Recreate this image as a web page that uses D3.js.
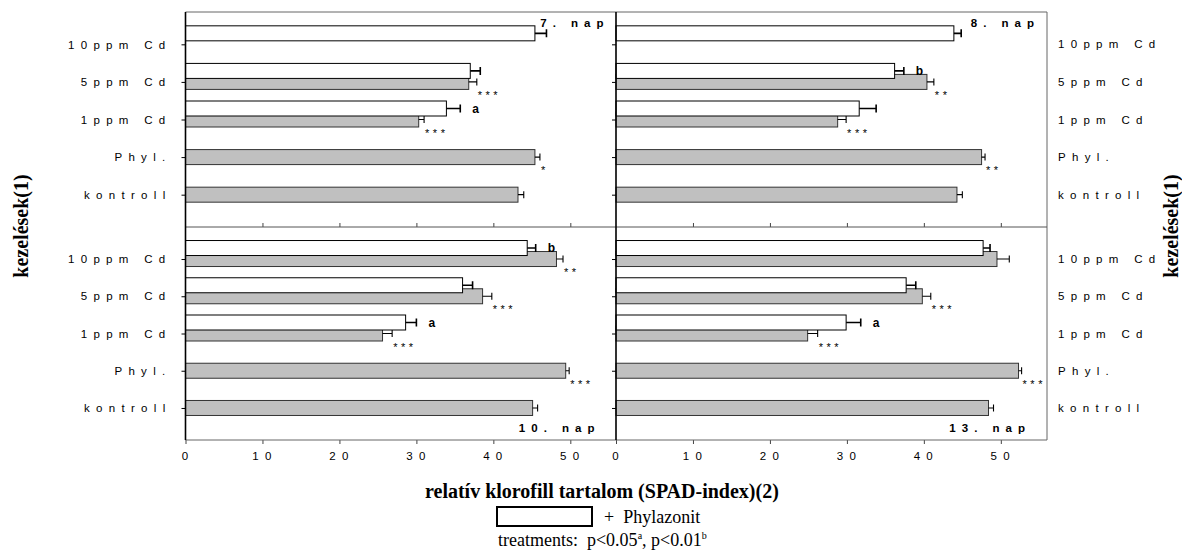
<!DOCTYPE html>
<html>
<head>
<meta charset="utf-8">
<script src="https://cdn.jsdelivr.net/npm/d3@7"></script>
<style>
  body { margin: 0; background: #fff; }
  .cat text, .xax text { font-family: "Liberation Sans", Arial, sans-serif; font-size: 11.5px; letter-spacing: 6.3px; fill: #000; }
  .serif { font-family: "Liberation Serif", "Times New Roman", serif; }
</style>
</head>
<body>
<div id="chart"></div>
<script>
// treatments (top to bottom on each panel)
const categories = ["10ppm Cd", "5ppm Cd", "1ppm Cd", "Phyl.", "kontroll"];
const days = ["7. nap", "8. nap", "10. nap", "13. nap"];
const xTicks = [0, 10, 20, 30, 40, 50];

// white bars = + Phylazonit, gray bars = without
const whiteValues = [
  [45.4, 37.0, 33.9, null, null],
  [43.9, 36.2, 31.6, null, null],
  [44.4, 36.0, 28.6, null, null],
  [47.7, 37.7, 29.9, null, null]
];
const whiteErrors = [
  [1.5, 1.3, 1.8, null, null],
  [0.95, 1.2, 2.2, null, null],
  [1.1, 1.3, 1.4, null, null],
  [0.9, 1.25, 1.9, null, null]
];
const grayValues = [
  [null, 36.8, 30.3, 45.4, 43.2],
  [null, 40.4, 28.8, 47.5, 44.3],
  [48.2, 38.6, 25.6, 49.4, 45.1],
  [49.5, 39.8, 24.9, 52.3, 48.4]
];
const grayErrors = [
  [null, 1.05, 0.7, 0.65, 0.75],
  [null, 0.9, 1.1, 0.45, 0.7],
  [0.85, 1.2, 1.25, 0.45, 0.65],
  [1.6, 1.1, 1.3, 0.4, 0.65]
];
const grayStars = [
  ["", "***", "***", "*", ""],
  ["", "**", "***", "**", ""],
  ["**", "***", "***", "***", ""],
  ["", "***", "***", "***", ""]
];
const whiteLetters = [
  ["", "", "a", "", ""],
  ["", "b", "", "", ""],
  ["b", "", "a", "", ""],
  ["", "", "a", "", ""]
];

const W = 1182, H = 552;
const pLeft = 185.5, pMid = 616, pRight = 1047;
const pTop = 12, pSplit = 227, pBottom = 440;
const pw = 431;

const svg = d3.select("#chart").append("svg")
  .attr("width", W).attr("height", H);

const x = d3.scaleLinear().domain([0, 56]).range([0, pw]);
const yTop = d3.scalePoint().domain(categories).range([pTop, pSplit]).padding(0.86);
const yBot = d3.scalePoint().domain(categories).range([pSplit, pBottom]).padding(0.86);

const barH = 15, shift = 11;

days.forEach(function(day, d) {
  const col = d % 2, row = Math.floor(d / 2);
  const x0 = col ? pMid : pLeft;
  const y = row ? yBot : yTop;
  const g = svg.append("g").attr("transform", "translate(" + x0 + ",0)");

  const rows = categories.map(function(c, i) {
    return { cat: c, w: whiteValues[d][i], we: whiteErrors[d][i],
             g: grayValues[d][i], ge: grayErrors[d][i],
             star: grayStars[d][i], letter: whiteLetters[d][i] };
  });

  // gray bars
  const gr = rows.filter(function(r) { return r.g != null; });
  g.selectAll(".gbar").data(gr).enter().append("rect")
    .attr("x", 0).attr("y", function(r) { return y(r.cat) - barH / 2; })
    .attr("width", function(r) { return x(r.g); }).attr("height", barH)
    .attr("fill", "#c0c0c0").attr("stroke", "#333").attr("stroke-width", 1);
  g.selectAll(".gerr").data(gr).enter().append("path")
    .attr("d", function(r) {
      const cy = y(r.cat), a = x(r.g), b = x(r.g + r.ge);
      return "M" + a + "," + cy + "H" + b + "M" + b + "," + (cy - 3.5) + "V" + (cy + 3.5);
    })
    .attr("stroke", "#000").attr("stroke-width", 1.1).attr("fill", "none");
  g.selectAll(".star").data(gr.filter(function(r) { return r.star; })).enter().append("text")
    .attr("x", function(r) { return x(r.g + r.ge) + 1; })
    .attr("y", function(r) { return y(r.cat) + 17; })
    .style("font-family", "Liberation Sans, Arial, sans-serif")
    .style("font-size", "11px").style("letter-spacing", "3.5px").attr("fill", "#000")
    .text(function(r) { return r.star; });

  // white bars (drawn on top)
  const wr = rows.filter(function(r) { return r.w != null; });
  g.selectAll(".wbar").data(wr).enter().append("rect")
    .attr("x", 0).attr("y", function(r) { return y(r.cat) - shift - barH / 2; })
    .attr("width", function(r) { return x(r.w); }).attr("height", barH)
    .attr("fill", "#fff").attr("stroke", "#000").attr("stroke-width", 1);
  g.selectAll(".werr").data(wr).enter().append("path")
    .attr("d", function(r) {
      const cy = y(r.cat) - shift, a = x(r.w), b = x(r.w + r.we);
      return "M" + a + "," + cy + "H" + b + "M" + b + "," + (cy - 4) + "V" + (cy + 4);
    })
    .attr("stroke", "#000").attr("stroke-width", 1.6).attr("fill", "none");
  g.selectAll(".letter").data(wr.filter(function(r) { return r.letter; })).enter().append("text")
    .attr("x", function(r) { return x(r.w + r.we) + 12; })
    .attr("y", function(r) { return y(r.cat) - shift + 4; })
    .style("font-family", "Liberation Sans, Arial, sans-serif")
    .style("font-size", "12px").style("font-weight", "bold")
    .text(function(r) { return r.letter; });

  // day label
  g.append("text")
    .attr("x", pw - (row ? 22 : 13) + 6).attr("y", row ? pBottom - 8 : pTop + 15)
    .attr("text-anchor", "end")
    .style("font-family", "Liberation Sans, Arial, sans-serif")
    .style("font-size", "11.5px").style("font-weight", "bold").style("letter-spacing", "6px")
    .text(day);

  // category axis ticks (left side of each panel)
  const ax = g.append("g").attr("class", "cat")
    .call(d3.axisLeft(y).tickSize(4).tickPadding(10).tickFormat(col ? "" : null));
  ax.select(".domain").remove();
  ax.selectAll("line").attr("stroke", "#000");
});

// right-side category labels
[yTop, yBot].forEach(function(y) {
  svg.append("g").attr("class", "cat")
    .selectAll("text").data(categories).enter().append("text")
    .attr("x", 1058).attr("y", function(c) { return y(c) + 4; })
    .text(function(c) { return c; });
});

// x axes
[pLeft, pMid].forEach(function(x0) {
  const ax = svg.append("g").attr("class", "xax")
    .attr("transform", "translate(" + x0 + "," + pBottom + ")")
    .call(d3.axisBottom(x).tickValues(xTicks).tickSize(4).tickPadding(8).tickFormat(d3.format("d")));
  ax.select(".domain").remove();
  ax.selectAll("line").attr("stroke", "#444");
  ax.selectAll("text").attr("dx", "2px");
  const ax2 = svg.append("g")
    .attr("transform", "translate(" + x0 + "," + pSplit + ")")
    .call(d3.axisTop(x).tickValues(xTicks.slice(1)).tickSize(4).tickFormat(""));
  ax2.select(".domain").remove();
  ax2.selectAll("line").attr("stroke", "#444");
});

// frame
const frame = svg.append("g").attr("fill", "none");
frame.append("path").attr("d", "M" + pLeft + "," + pTop + "H" + pRight + "V" + pBottom + "H" + pLeft)
  .attr("stroke", "#666").attr("stroke-width", 1);
frame.append("path").attr("d", "M" + pLeft + "," + pSplit + "H" + pRight)
  .attr("stroke", "#555").attr("stroke-width", 1);
frame.append("path").attr("d", "M" + pLeft + "," + pTop + "V" + pBottom + "M" + pMid + "," + pTop + "V" + pBottom)
  .attr("stroke", "#000").attr("stroke-width", 1.6);

// axis titles
[28, 1178].forEach(function(bx) {
  svg.append("text").attr("class", "serif")
    .attr("transform", "translate(" + bx + "," + 226 + ") rotate(-90)")
    .attr("text-anchor", "middle")
    .style("font-size", "20px").style("font-weight", "bold")
    .text("kezelések(1)");
});
svg.append("text").attr("class", "serif")
  .attr("x", 425).attr("y", 498)
  .style("font-size", "20px").style("font-weight", "bold")
  .text("relatív klorofill tartalom (SPAD-index)(2)");

// legend
svg.append("rect").attr("x", 497).attr("y", 507).attr("width", 95).attr("height", 19)
  .attr("fill", "#fff").attr("stroke", "#000").attr("stroke-width", 2);
svg.append("text").attr("class", "serif")
  .attr("x", 604).attr("y", 523).style("font-size", "18px").style("white-space", "pre")
  .text("+  Phylazonit");
const t = svg.append("text").attr("class", "serif")
  .attr("x", 498).attr("y", 546).style("font-size", "18px").style("white-space", "pre");
t.append("tspan").text("treatments:  p<0.05");
t.append("tspan").attr("dy", -7).style("font-size", "10px").text("a");
t.append("tspan").attr("dy", 7).text(", p<0.01");
t.append("tspan").attr("dy", -7).style("font-size", "10px").text("b");
</script>
</body>
</html>
